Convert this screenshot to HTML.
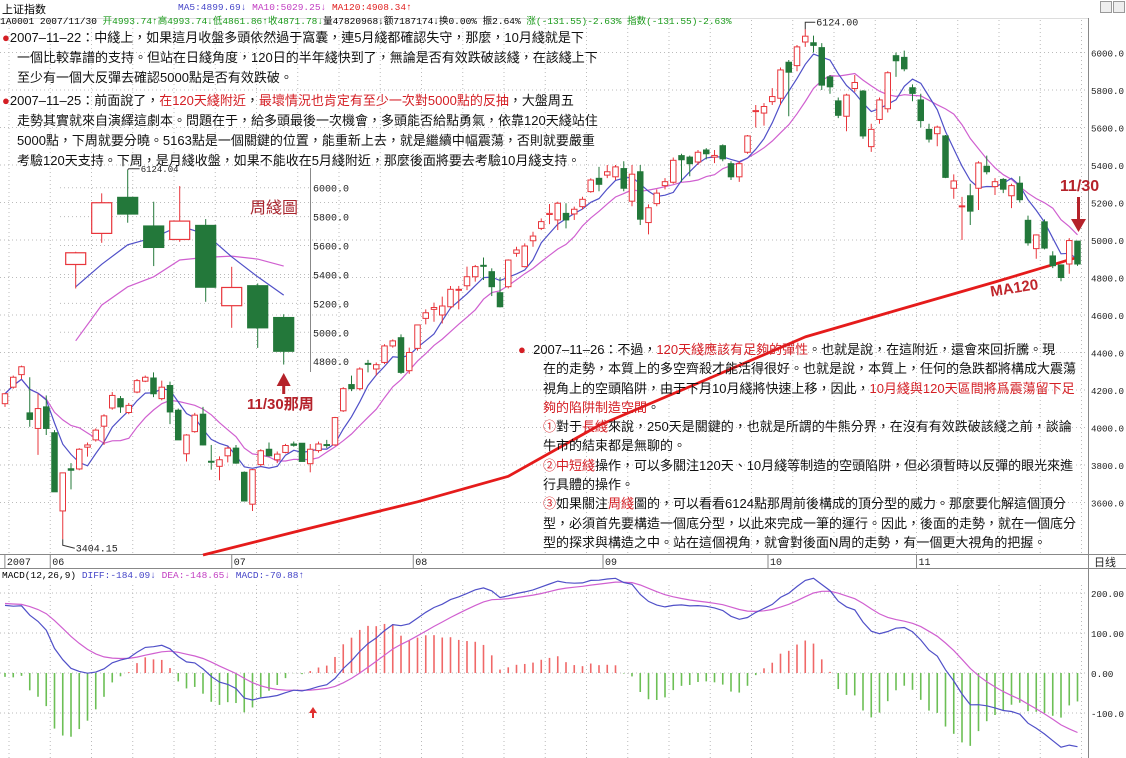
<!DOCTYPE html>
<html><head><meta charset="utf-8">
<style>
body{margin:0;background:#fff;}
#wrap{position:relative;width:1126px;height:758px;overflow:hidden;background:#fff;font-family:"Liberation Sans","Noto Sans CJK TC",sans-serif;}
svg{position:absolute;left:0;top:0;}
.ann{position:absolute;font-size:13px;color:#111;white-space:nowrap;line-height:20px;font-family:"Liberation Sans","Noto Sans CJK TC",sans-serif;}
.r{color:#d41e24;}
.hd{position:absolute;font-family:"Liberation Mono","Noto Sans CJK SC",monospace;font-size:9.5px;white-space:nowrap;}
</style></head>
<body>
<div id="wrap">
<svg id="chart" width="1126" height="758"></svg>

<div class="hd" style="left:2px;top:1px;font-size:11px;">上证指数</div>
<div class="hd" style="left:178px;top:2px;"><span style="color:#4646c8">MA5:4899.69↓</span> <span style="color:#c23ec2">MA10:5029.25↓</span> <span style="color:#e02020">MA120:4908.34↑</span></div>
<div class="hd" style="left:0px;top:13px;">1A0001 2007/11/30 <span style="color:#1a9a1a">开4993.74↑高4993.74↓低4861.86↑收4871.78↓</span>量47820968↓额7187174↓换0.00% 振2.64% <span style="color:#1a9a1a">涨(-131.55)-2.63%</span> <span style="color:#1a9a1a">指数(-131.55)-2.63%</span></div>
<div style="position:absolute;left:1100px;top:1px;width:10px;height:10px;border:1px solid #999;background:#eee"></div>
<div style="position:absolute;left:1113px;top:1px;width:10px;height:10px;border:1px solid #999;background:#eee"></div>

<div class="hd" style="left:2px;top:570px;">MACD(12,26,9) <span style="color:#4646c8">DIFF:-184.09↓</span> <span style="color:#c23ec2">DEA:-148.65↓</span> <span style="color:#4646c8">MACD:-70.88↑</span></div>

<div class="ann" style="left:2px;top:28px;">
<div><span class="r">●</span>2007–11–22：中綫上，如果這月收盤多頭依然過于窩囊，連5月綫都確認失守，那麼，10月綫就是下</div>
<div style="margin-left:15px">一個比較靠譜的支持。但站在日綫角度，120日的半年綫快到了，無論是否有效跌破該綫，在該綫上下</div>
<div style="margin-left:15px">至少有一個大反彈去確認5000點是否有效跌破。</div>
</div>
<div class="ann" style="left:2px;top:91px;">
<div><span class="r">●</span>2007–11–25：前面說了，<span class="r">在120天綫附近</span>，<span class="r">最壞情況也肯定有至少一次對5000點的反抽</span>，大盤周五</div>
<div style="margin-left:15px">走勢其實就來自演繹這劇本。問題在于，給多頭最後一次機會，多頭能否給點勇氣，依靠120天綫站住</div>
<div style="margin-left:15px">5000點，下周就要分曉。5163點是一個關鍵的位置，能重新上去，就是繼續中幅震蕩，否則就要嚴重</div>
<div style="margin-left:15px">考驗120天支持。下周，是月綫收盤，如果不能收在5月綫附近，那麼後面將要去考驗10月綫支持。</div>
</div>
<div class="ann" style="left:518px;top:340px;line-height:19.3px;">
<div><span class="r">●</span>&nbsp; 2007–11–26：不過，<span class="r">120天綫應該有足夠的彈性</span>。也就是說，在這附近，還會來回折騰。現</div>
<div style="margin-left:25px">在的走勢，本質上的多空齊殺才能活得很好。也就是說，本質上，任何的急跌都將構成大震蕩</div>
<div style="margin-left:25px">視角上的空頭陷阱，由于下月10月綫將快速上移，因此，<span class="r">10月綫與120天區間將爲震蕩留下足</span></div>
<div style="margin-left:25px"><span class="r">夠的陷阱制造空間</span>。</div>
<div style="margin-left:25px"><span class="r">①</span>對于<span class="r">長綫</span>來說，250天是關鍵的，也就是所謂的牛熊分界，在沒有有效跌破該綫之前，談論</div>
<div style="margin-left:25px">牛市的結束都是無聊的。</div>
<div style="margin-left:25px"><span class="r">②中短綫</span>操作，可以多關注120天、10月綫等制造的空頭陷阱，但必須暫時以反彈的眼光來進</div>
<div style="margin-left:25px">行具體的操作。</div>
<div style="margin-left:25px"><span class="r">③</span>如果關注<span class="r">周綫</span>圖的，可以看看6124點那周前後構成的頂分型的威力。那麼要化解這個頂分</div>
<div style="margin-left:25px">型，必須首先要構造一個底分型，以此來完成一筆的運行。因此，後面的走勢，就在一個底分</div>
<div style="margin-left:25px">型的探求與構造之中。站在這個視角，就會對後面N周的走勢，有一個更大視角的把握。</div>
</div>
</div>

<script>
// ---- daily data ----
const opens=[4127,4215,4282,4078,3995,4110,3972,3555,3780,3779,3895,3934,4007,4104,4154,4080,4189,4247,4264,4154,4224,4092,3860,3978,4071,3820,3793,3849,3890,3761,3591,3802,3884,3828,3867,3912,3916,3807,3877,3909,3907,4089,4229,4207,4342,4312,4347,4435,4479,4303,4422,4582,4630,4600,4644,4733,4756,4804,4865,4831,4719,4751,4929,4858,4996,5062,5136,5107,5142,5139,5178,5258,5329,5346,5337,5381,5207,5364,5093,5194,5290,5308,5450,5442,5416,5480,5442,5503,5407,5337,5468,5685,5677,5738,5756,5948,5930,6056,6052,6026,5870,5742,5660,5808,5794,5498,5643,5700,5983,5974,5812,5747,5590,5567,5555,5276,5178,5236,5276,5393,5285,5323,5236,5303,5105,4954,5097,4915,4867,4872,4994];
const highs=[4185,4277,4330,4268,4180,4171,3986,3758,3810,3890,3920,3995,4071,4189,4168,4131,4259,4277,4294,4250,4245,4101,3965,4078,4110,3907,3846,3898,3907,3766,3779,3884,3920,3872,3913,3925,3916,3912,3925,3934,4057,4215,4277,4321,4361,4347,4444,4470,4497,4426,4547,4630,4666,4698,4755,4755,4858,4867,4907,4849,4800,4897,4964,4982,5044,5115,5192,5204,5196,5178,5231,5329,5390,5400,5400,5420,5400,5400,5190,5270,5330,5440,5460,5450,5480,5490,5480,5510,5420,5420,5560,5720,5730,5810,5920,5960,6040,6124,6090,6050,5880,5760,5780,5880,5800,5620,5760,5900,6000,6010,5830,5780,5620,5610,5560,5350,5230,5300,5420,5450,5330,5330,5300,5340,5130,5030,5110,4940,4870,5010,4994];
const lows=[4110,4207,4259,4004,3854,3960,3657,3404,3670,3772,3845,3925,3907,4095,4078,4071,4183,4242,4162,4145,4018,3934,3819,3972,3904,3775,3719,3814,3807,3608,3555,3793,3845,3810,3863,3898,3819,3761,3866,3890,3902,4083,4194,4198,4294,4277,4338,4426,4286,4286,4410,4550,4564,4555,4635,4630,4733,4778,4787,4701,4641,4742,4911,4854,4964,5053,5085,5053,5062,5107,5164,5252,5260,5330,5320,5260,5180,5080,5030,5180,5270,5300,5310,5340,5400,5430,5410,5420,5320,5310,5460,5600,5610,5720,5720,5660,5900,6030,6000,5800,5780,5650,5580,5790,5540,5470,5620,5680,5870,5900,5740,5600,5520,5500,5330,5220,5000,5080,5160,5350,5240,5250,5170,5200,4970,4900,4950,4850,4780,4820,4862];
const closes=[4180,4268,4324,4043,4101,3995,3657,3758,3772,3884,3907,3986,4062,4171,4110,4118,4250,4268,4180,4215,4083,3934,3960,4066,3907,3815,3828,3890,3810,3608,3775,3876,3849,3858,3904,3905,3819,3884,3912,3905,4053,4207,4207,4312,4340,4335,4435,4462,4294,4400,4547,4612,4640,4648,4737,4737,4804,4858,4862,4751,4644,4893,4947,4968,5021,5098,5142,5196,5107,5164,5217,5320,5297,5364,5390,5276,5351,5111,5172,5250,5311,5425,5428,5407,5468,5460,5451,5433,5337,5407,5555,5690,5712,5765,5907,5895,6030,6087,6038,5826,5817,5665,5773,5840,5555,5590,5747,5892,5956,5913,5782,5637,5538,5602,5334,5315,5182,5154,5411,5364,5311,5271,5290,5215,4985,5027,4957,4863,4800,4997,4872];
// MA120 sampled values (day index, value)
const ma120Days=[24,36,50,61,72,84,97,108,120,130];
const ma120Vals=[3320,3453,3604,3740,4011,4237,4483,4624,4776,4908];
// MACD EMA seeds (state before first visible day)
const seedEma12=4128, seedEma26=3950, seedDea=175;
// main axis ticks
const priceTicks=[3600,3800,4000,4200,4400,4600,4800,5000,5200,5400,5600,5800,6000];
const macdTicks=[200,100,0,-100];
const macdTickLabels=["200.00","100.00","0.00","-100.0"];
const monthLabels=["2007","06","07","08","09","10","11"];
const monthDays=[-0.5,5,27,49,72,92,110];
// ---- weekly inset data ----
const wOpen=[5469,5684,5933,5735,5642,5739,5184,5322,5102];
const wHigh=[5557,5961,6124,5903,6011,5783,5453,5338,5125];
const wLow=[5303,5619,5758,5458,5626,5211,5031,4892,4777];
const wClose=[5550,5896,5818,5587,5769,5312,5310,5031,4869];
const wMa5=[5315,5470,5605,5655,5735,5680,5522,5384,5257];
const wMa10=[4941,5188,5315,5384,5500,5518,5527,5506,5458];
const wTicks=[4800,5000,5200,5400,5600,5800,6000];

const NS="http://www.w3.org/2000/svg";
const svg=document.getElementById('chart');
function mk(tag,attrs,parent){const e=document.createElementNS(NS,tag);for(const k in attrs)e.setAttribute(k,attrs[k]);(parent||svg).appendChild(e);return e;}
const xi=i=>5+i*8.25;
const yP=p=>240+(5000-p)*0.1875;
const yM=v=>673-v*0.4;
const xw=j=>75.7+j*26;
const yw=p=>187.7+(6000-p)*0.1446;
const RED="#e8353b", GRN="#23783a";

// grid
const grid=mk('g',{});


priceTicks.forEach(p=>{
  const l=mk('line',{x1:0,x2:1088,y1:yP(p),y2:yP(p),stroke:'#bbb','stroke-dasharray':'1,3'},grid);
  
  
  const t=mk('text',{x:1091,y:yP(p)+4,'font-size':9.5,'font-family':'Liberation Mono, monospace',fill:'#222',textLength:33,lengthAdjust:'spacingAndGlyphs'});
  t.textContent=p.toFixed(1);
  
  
});
for(let i=0;i<131;i+=5){
  const x=xi(i)+4;
  const l=mk('line',{x1:x,x2:x,y1:20,y2:553,stroke:'#bbb','stroke-dasharray':'1,3'},grid);
  
  
  const l2=mk('line',{x1:x,x2:x,y1:585,y2:758,stroke:'#bbb','stroke-dasharray':'1,3'},grid);
  
  
}
macdTicks.forEach((v,k)=>{
  const l=mk('line',{x1:0,x2:1088,y1:yM(v),y2:yM(v),stroke:'#bbb','stroke-dasharray':'1,3'},grid);
  
  
  const t=mk('text',{x:1091,y:yM(v)+4,'font-size':9.5,'font-family':'Liberation Mono, monospace',fill:'#222',textLength:Math.min(33,macdTickLabels[k].length*5.6),lengthAdjust:'spacingAndGlyphs'});
  t.textContent=macdTickLabels[k];
  
  
});
// axes frame
const ax=mk('g',{stroke:'#888','stroke-width':1});


mk('line',{x1:1088.5,x2:1088.5,y1:18,y2:758},ax);
mk('line',{x1:0,x2:1126,y1:554.5,y2:554.5},ax);
mk('line',{x1:0,x2:1126,y1:568.5,y2:568.5},ax);
mk('line',{x1:0,x2:1088,y1:18.5,y2:18.5,stroke:'#ddd'},ax);
monthLabels.forEach((m,k)=>{
  const x=xi(monthDays[k])+4;
  mk('line',{x1:x,x2:x,y1:555,y2:568,stroke:'#888'},ax);
  const t=mk('text',{x:x+2,y:565,'font-size':10,'font-family':'Liberation Mono, monospace',fill:'#222',stroke:'none'});
  t.textContent=m;
  
  
});
const dl=mk('text',{x:1094,y:566,'font-size':11,fill:'#222','font-family':'Noto Sans CJK SC, sans-serif'});
dl.textContent='日线';



// MA120
let d120='';
ma120Days.forEach((dd,k)=>{d120+=(k?'L':'M')+xi(dd).toFixed(1)+','+yP(ma120Vals[k]).toFixed(1);});
const m120=mk('path',{d:d120,fill:'none',stroke:'#e51b1b','stroke-width':2.8,'stroke-linejoin':'round'});



// moving averages
function ma(n){return closes.map((c,i)=>{const s=closes.slice(Math.max(0,i-n+1),i+1);return s.reduce((a,b)=>a+b,0)/s.length;});}
function pathOf(arr,fx,fy){return arr.map((v,i)=>(i?'L':'M')+fx(i).toFixed(1)+','+fy(v).toFixed(1)).join('');}
const ma10=ma(10), ma5=ma(5);
const p10=mk('path',{d:pathOf(ma10,xi,yP),fill:'none',stroke:'#d060d0','stroke-width':1.2});


const p5=mk('path',{d:pathOf(ma5,xi,yP),fill:'none',stroke:'#5050c8','stroke-width':1.2});



// candles
closes.forEach((c,i)=>{
  const o=opens[i],x=xi(i),up=c>=o,col=up?RED:GRN;
  const g=mk('g',{});
  
  
  const top=Math.max(o,c),bot=Math.min(o,c);
  mk('line',{x1:x,x2:x,y1:yP(highs[i]),y2:yP(top),stroke:col,'stroke-width':1},g);
  mk('line',{x1:x,x2:x,y1:yP(bot),y2:yP(lows[i]),stroke:col,'stroke-width':1},g);
  mk('rect',{x:x-2.75,y:yP(top),width:5.5,height:Math.max(1,yP(bot)-yP(top)),fill:up?'#fff':GRN,stroke:col,'stroke-width':1},g);
});

// high/low annotations
const hiIdx=highs.indexOf(Math.max(...highs)), loIdx=lows.indexOf(Math.min(...lows));
const ha=mk('g',{});


mk('polyline',{points:`${xi(hiIdx)},${yP(highs[hiIdx])} ${xi(hiIdx)},${yP(highs[hiIdx])-7} ${xi(hiIdx)+10},${yP(highs[hiIdx])-7}`,fill:'none',stroke:'#333'},ha);
const ht=mk('text',{x:xi(hiIdx)+11,y:yP(highs[hiIdx])-4,'font-size':10,'font-family':'Liberation Mono, monospace',fill:'#222'},ha);
ht.textContent=highs[hiIdx].toFixed(2);
const la=mk('g',{});


mk('polyline',{points:`${xi(loIdx)},${yP(lows[loIdx])} ${xi(loIdx)},${yP(lows[loIdx])+6} ${xi(loIdx)+12},${yP(lows[loIdx])+9}`,fill:'none',stroke:'#333'},la);
const lt=mk('text',{x:xi(loIdx)+13,y:yP(lows[loIdx])+12,'font-size':10,'font-family':'Liberation Mono, monospace',fill:'#222'},la);
lt.textContent='3404.15';

// 11/30 arrow & MA120 label
const ar=mk('g',{fill:'#b5222a'});


const at=mk('text',{x:1060,y:191,'font-size':16,'font-weight':'bold','font-family':'Liberation Sans, sans-serif'},ar);
at.textContent='11/30';
mk('rect',{x:1077,y:197,width:3,height:24},ar);
mk('polygon',{points:'1071,219 1086,219 1078.5,232'},ar);
const mt=mk('text',{x:990,y:292,'font-size':15,'font-weight':'bold',fill:'#c0262c',transform:'rotate(-9 1020 287)','font-family':'Liberation Sans, sans-serif'});
mt.textContent='MA120';



// ---- weekly inset ----
const wi=mk('g',{});


mk('line',{x1:310.5,x2:310.5,y1:168,y2:372,stroke:'#888'},wi);
wTicks.forEach(p=>{
  const l=mk('line',{x1:60,x2:310,y1:yw(p),y2:yw(p),stroke:'#bbb','stroke-dasharray':'1,3'},wi);
  
  
  const t=mk('text',{x:313,y:yw(p)+4,'font-size':10,'font-family':'Liberation Mono, monospace',fill:'#222'},wi);
  t.textContent=p.toFixed(1);
  
  
});
const w10=mk('path',{d:pathOf(wMa10,xw,yw),fill:'none',stroke:'#d060d0','stroke-width':1.2},wi);


const w5=mk('path',{d:pathOf(wMa5,xw,yw),fill:'none',stroke:'#5050c8','stroke-width':1.2},wi);


wClose.forEach((c,j)=>{
  const o=wOpen[j],x=xw(j),up=c>=o,col=up?RED:GRN;
  const g=mk('g',{},wi);
  
  
  const top=Math.max(o,c),bot=Math.min(o,c);
  mk('line',{x1:x,x2:x,y1:yw(wHigh[j]),y2:yw(wLow[j]),stroke:col},g);
  mk('rect',{x:x-10,y:yw(top),width:20,height:yw(bot)-yw(top),fill:up?'#fff':GRN,stroke:col,'stroke-width':1.2},g);
});
const wh=wHigh.indexOf(Math.max(...wHigh));
mk('polyline',{points:`${xw(wh)},${yw(wHigh[wh])} ${xw(wh)+1},${yw(wHigh[wh])-1} ${xw(wh)+12},${yw(wHigh[wh])-1}`,fill:'none',stroke:'#333'},wi);
const wht=mk('text',{x:xw(wh)+13,y:yw(wHigh[wh])+2,'font-size':9,'font-family':'Liberation Mono, monospace',fill:'#222'},wi);
wht.textContent='6124.04';
const wt=mk('text',{x:250,y:213,'font-size':16,fill:'#a8262e','font-family':'Noto Sans CJK TC, sans-serif'},wi);
wt.textContent='周綫圖';


const wa=mk('g',{fill:'#b5222a'},wi);


mk('polygon',{points:`${xw(8)-7},386 ${xw(8)+7},386 ${xw(8)},373`},wa);
mk('rect',{x:xw(8)-1.5,y:385,width:3,height:9},wa);
const wl=mk('text',{x:247,y:409,'font-size':15,'font-weight':'bold','font-family':'Liberation Sans, Noto Sans CJK TC, sans-serif'},wa);
wl.textContent='11/30那周';

// ---- MACD ----
let e12=seedEma12,e26=seedEma26,dea=seedDea;
const diff=[],deaArr=[],hist=[];
closes.forEach(c=>{e12=e12*11/13+c*2/13;e26=e26*25/27+c*2/27;const d=e12-e26;dea=dea*0.8+d*0.2;diff.push(d);deaArr.push(dea);hist.push(2*(d-dea));});
hist.forEach((h,i)=>{
  const l=mk('line',{x1:xi(i),x2:xi(i),y1:yM(0),y2:yM(h),stroke:h>=0?'#f06868':'#6cbf55','stroke-width':1.6});
  
  
});
const pd=mk('path',{d:pathOf(deaArr,xi,yM),fill:'none',stroke:'#d060d0','stroke-width':1.2});


const pf=mk('path',{d:pathOf(diff,xi,yM),fill:'none',stroke:'#5050c8','stroke-width':1.2});


const sm=mk('g',{fill:'#e03030'});


mk('polygon',{points:'309,713 317,713 313,707'},sm);
mk('rect',{x:312,y:712,width:2,height:6},sm);
</script>
</body></html>
